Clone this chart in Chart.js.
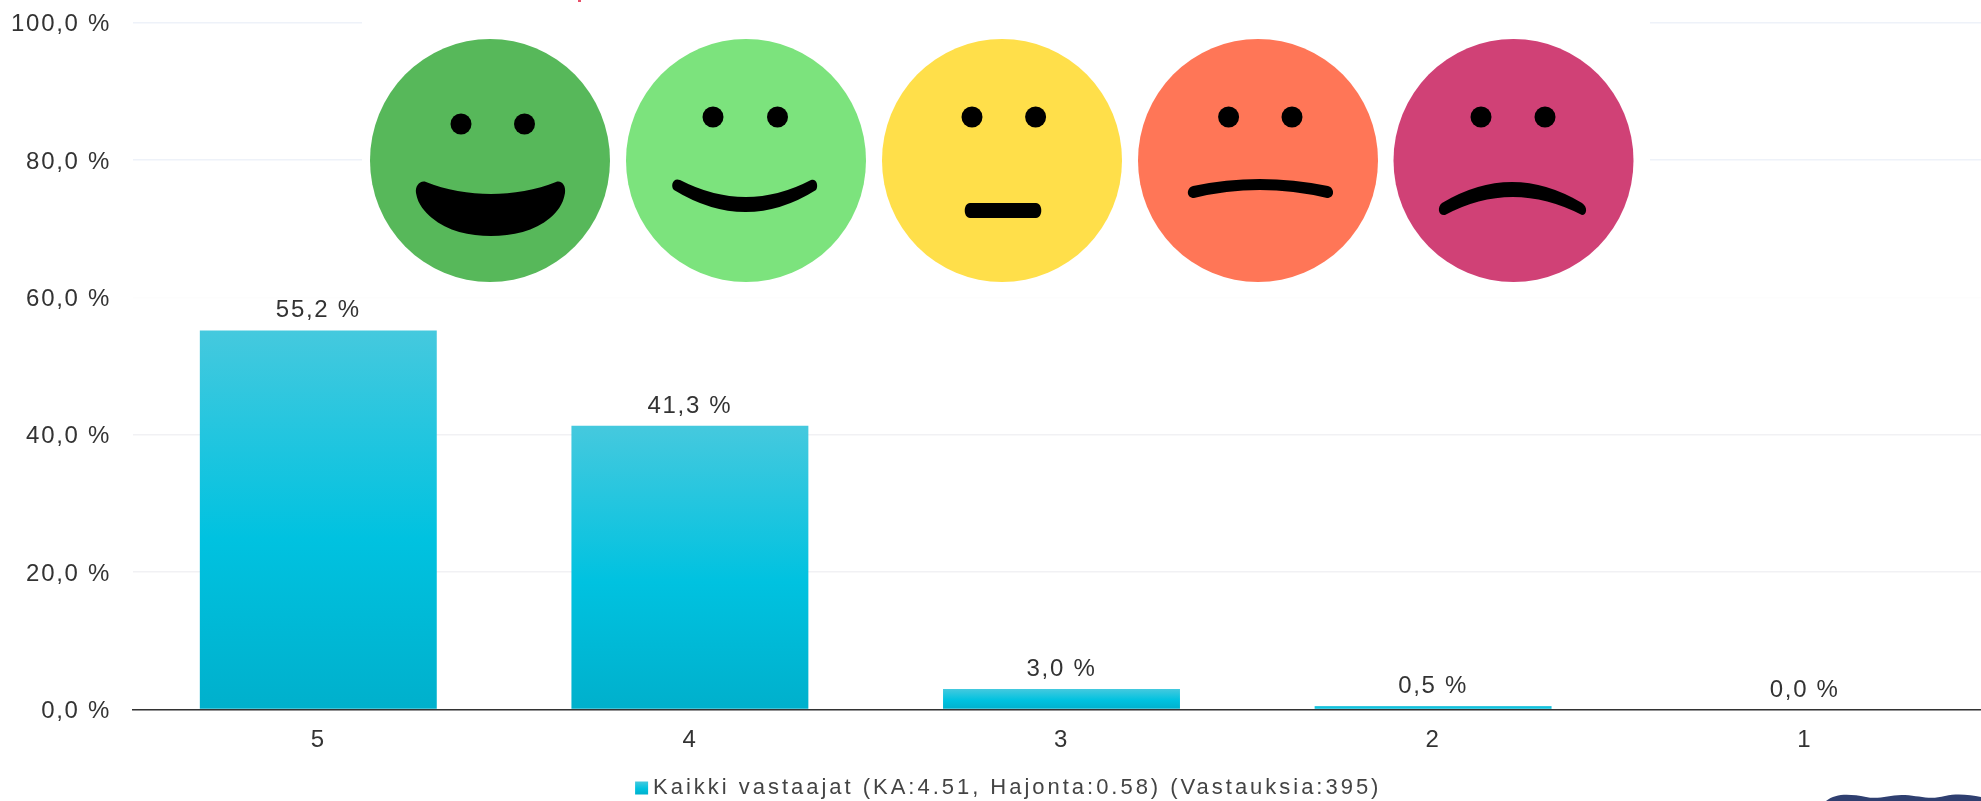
<!DOCTYPE html>
<html><head><meta charset="utf-8">
<style>html,body{margin:0;padding:0;background:#fff;overflow:hidden;width:1981px;height:801px}canvas{display:block}</style>
<script src="https://cdn.jsdelivr.net/npm/chart.js@4"></script>
</head><body><canvas id="c" width="2016" height="801"></canvas>
<script>
const categories = ['5','4','3','2','1'];
const values = [55.2, 41.3, 3.0, 0.5, 0.0];
const seriesName = 'Kaikki vastaajat (KA:4.51, Hajonta:0.58) (Vastauksia:395)';
const yMax = 100, yStep = 20;
const FONT = '"Liberation Sans", Arial, sans-serif';
const SPACING = '1.7px', LEGEND_SPACING = '2.98px';
const LEGEND_SHIFT = 10;
const fmt = v => v.toFixed(1).replace('.', ',') + ' %';

function barGradient(ctx, top, bottom){
  const g = ctx.createLinearGradient(0, top, 0, bottom);
  g.addColorStop(0, '#45c9de');
  g.addColorStop(0.55, '#00c2e0');
  g.addColorStop(1, '#00b0cc');
  return g;
}

const faces = [
 {cx:490, fill:'#57b85a', eyes:[461,524.5], eyeY:124, mouth:'M426 182 C445 190 470 194 491 194 C512 194 537 190 556 182 C562 180 566 186 565 193 C563 205 557 212 550 218 C535 231 512 236 491 236 C470 236 447 231 432 218 C425 212 418 205 416 193 C415 186 420 180 426 182Z'},
 {cx:746, fill:'#7ce37d', eyes:[713,777.5], eyeY:117, mouth:'M680 180 Q746 214 811 180 C816 178 819 185 816 190 Q746 234 674 190 C670 186 673 177 680 180Z'},
 {cx:1002, fill:'#ffdf4a', eyes:[972,1035.6], eyeY:117, mouth:'M970 203 L1036 203 C1043 203 1043 218 1036 218 L970 218 C963 218 963 203 970 203Z'},
 {cx:1258, fill:'#ff7657', eyes:[1228.6,1292], eyeY:117, mouth:'M1193 186 Q1259 172 1328 186 C1335 188 1335 198 1327 198 Q1259 182 1194 198 C1186 198 1186 188 1193 186Z'},
 {cx:1513.5, fill:'#d04176', eyes:[1481,1545], eyeY:117, mouth:'M1442 203 Q1512 161 1582 203 C1588 207 1587 215 1582 215 Q1512 179 1445 215 C1438 216 1437 207 1442 203Z'}
];

const spacingPlugin = {
  id:'spacing',
  beforeUpdate(c){
    const ctx = c.ctx, lg = c.legend;
    ctx.letterSpacing = SPACING;
    if (lg && !lg._wrapped) {
      lg._wrapped = true;
      const fit = lg.fit, draw = lg.draw;
      lg.fit = function(...a){
        ctx.letterSpacing = LEGEND_SPACING;
        const r = fit.apply(this,a);
        ctx.letterSpacing = SPACING;
        return r;
      };
      lg.draw = function(...a){
        ctx.save();
        ctx.letterSpacing = LEGEND_SPACING;
        ctx.translate(LEGEND_SHIFT,0);
        const r = draw.apply(this,a);
        ctx.restore();
        ctx.letterSpacing = SPACING;
        return r;
      };
    }
  },
  beforeDraw(c){ c.ctx.letterSpacing = SPACING; }
};
const valueLabels = {
  id:'valueLabels',
  afterDatasetsDraw(c){
    const ctx = c.ctx, meta = c.getDatasetMeta(0);
    ctx.save();
    ctx.font = '24px ' + FONT;
    ctx.fillStyle = '#333';
    ctx.textAlign = 'center';
    ctx.textBaseline = 'alphabetic';
    meta.data.forEach((el,i)=>{ ctx.fillText(fmt(values[i]), el.x, el.y - 13); });
    ctx.restore();
  }
};
const overlay = {
  id:'overlay',
  afterDraw(c){
    const ctx = c.ctx;
    ctx.save();
    ctx.fillStyle = '#fff';
    ctx.fillRect(362, 0, 1288, 296);
    faces.forEach(f=>{
      ctx.fillStyle = f.fill;
      ctx.beginPath(); ctx.ellipse(f.cx, 160.5, 120, 121.5, 0, 0, Math.PI*2); ctx.fill();
      ctx.fillStyle = '#000';
      f.eyes.forEach(x=>{ ctx.beginPath(); ctx.arc(x, f.eyeY, 10.5, 0, Math.PI*2); ctx.fill(); });
      ctx.fill(new Path2D(f.mouth));
    });
    ctx.fillStyle = '#e8506a';
    ctx.fillRect(578, 0, 3, 2);
    ctx.fillStyle = '#2f3f70';
    ctx.fill(new Path2D('M1826 801 C1836 793 1850 794 1866 797 C1880 800 1890 794 1905 795 C1920 796 1930 800 1945 796 C1958 793 1970 795 1981 797 L1981 801Z'));
    // legend swatch sits tighter to its text than the library's fixed gap allows
    const hit = c.legend.legendHitBoxes[0];
    const bx = hit.left + LEGEND_SHIFT + 6, by = hit.top + hit.height/2 - 6.5;
    ctx.fillStyle = barGradient(ctx, by, by + 13);
    ctx.fillRect(bx, by, 13, 13);
    ctx.restore();
  }
};

new Chart(document.getElementById('c'), {
  type:'bar',
  data:{ labels:categories, datasets:[{
    label:seriesName, data:values,
    backgroundColor(context){
      const {chart, parsed} = context;
      if (!parsed || !chart.chartArea) return '#00c2e0';
      const y = chart.scales.y;
      return barGradient(chart.ctx, y.getPixelForValue(parsed.y), y.getPixelForValue(0));
    },
    borderWidth:0, barPercentage:1, categoryPercentage:0.6376
  }]},
  options:{
    responsive:false, animation:false, events:[],
    layout:{padding:{top:22.7,right:25.5,left:0,bottom:-8}},
    scales:{
      x:{
        grid:{display:false, drawTicks:false},
        border:{display:true,color:'#333',width:1.5},
        ticks:{color:'#333',font:{family:FONT,size:24},padding:16,maxRotation:0},
        afterFit(s){ s.height = 63; s.paddingLeft = 0; s.paddingRight = 0; }
      },
      y:{
        min:0,max:yMax,
        grid:{
          color:t=> t.tick.value===60 ? '#fdfdfd' : (t.tick.value>=80 ? '#eef2f9' : '#f1f1f4'),
          lineWidth:1.5, tickLength:0, drawTicks:false
        },
        border:{display:false},
        ticks:{stepSize:yStep,color:'#333',font:{family:FONT,size:24},padding:21.5,labelOffset:2,callback:v=>fmt(v)},
        afterFit(s){ s.width = 132.5; s.paddingTop = 0; s.paddingBottom = 0; }
      }
    },
    plugins:{
      legend:{
        position:'bottom',
        labels:{
          color:'#444', font:{family:FONT,size:22}, boxWidth:13, boxHeight:13, padding:4.5,
          generateLabels(c){
            return [{text:seriesName, fillStyle:'rgba(0,0,0,0)', strokeStyle:'rgba(0,0,0,0)', lineWidth:0, fontColor:'#444', datasetIndex:0, hidden:false}];
          }
        }
      },
      tooltip:{enabled:false}
    }
  },
  plugins:[spacingPlugin, valueLabels, overlay]
});
</script></body></html>
